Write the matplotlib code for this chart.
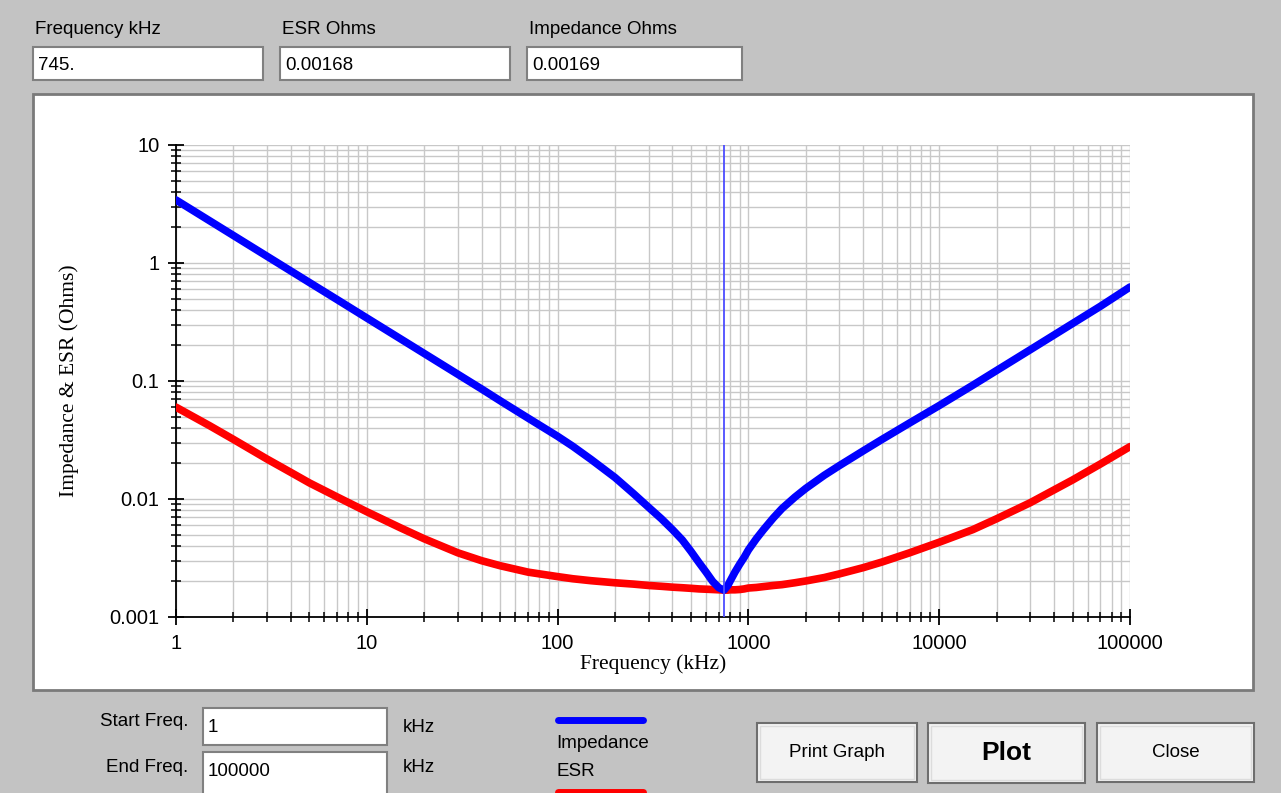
import numpy as np
import matplotlib
matplotlib.use("Agg")
import matplotlib.pyplot as plt
from matplotlib.patches import Rectangle
from matplotlib.ticker import LogLocator, FuncFormatter, NullFormatter

W, H = 1281, 793

# ================= DATA =================
freq_khz = [1, 1.5, 2, 3, 4, 5, 7, 10, 15, 20, 30, 40, 50, 70, 100, 120, 150,
            200, 250, 300, 350, 400, 450, 500, 550, 600, 650, 700, 745, 780, 800,
            850, 900, 950, 1000, 1100, 1200, 1350, 1500, 1750, 2000, 2500, 3000,
            4000, 5000, 7000, 10000, 15000, 20000, 30000, 50000, 70000, 100000]
impedance_ohm = [3.42, 2.28, 1.71, 1.14, 0.855, 0.684, 0.489, 0.342, 0.228, 0.171,
                 0.114, 0.0855, 0.068, 0.0485, 0.0340, 0.0280, 0.0216, 0.0152,
                 0.0111, 0.0085, 0.0068, 0.0055, 0.0045, 0.0036, 0.0029, 0.0024,
                 0.0020, 0.00177, 0.00169, 0.00185, 0.0020, 0.0024, 0.0028, 0.0032,
                 0.0037, 0.0046, 0.0055, 0.0069, 0.0083, 0.01035, 0.0123, 0.0159,
                 0.0192, 0.0256, 0.0319, 0.0441, 0.0619, 0.0921, 0.1228, 0.184,
                 0.307, 0.43, 0.626]
esr_ohm = [0.060, 0.0418, 0.0320, 0.0218, 0.0168, 0.0137, 0.0104, 0.0078, 0.0057,
           0.0046, 0.0035, 0.0030, 0.00272, 0.0024, 0.0022, 0.00211, 0.00203,
           0.00195, 0.0019, 0.00185, 0.00182, 0.00179, 0.00177, 0.00175, 0.00173,
           0.00172, 0.00171, 0.0017, 0.00169, 0.00169, 0.0017, 0.0017, 0.00171,
           0.00173, 0.00176, 0.00178, 0.00181, 0.00185, 0.00188, 0.00195, 0.00202,
           0.00216, 0.00232, 0.00262, 0.00292, 0.0035, 0.0043, 0.0055, 0.0068,
           0.0093, 0.0145, 0.0198, 0.0278]

cursor_khz = 745
readout_labels = ["Frequency kHz", "ESR Ohms", "Impedance Ohms"]
readout_values = ["745.", "0.00168", "0.00169"]
start_freq = "1"
end_freq = "100000"

GUI_BG = "#c3c3c3"
GUI_FONT = ["Liberation Sans", "DejaVu Sans"]

fig = plt.figure(figsize=(W / 100, H / 100), dpi=100, facecolor=GUI_BG)

# ================= WINDOW (pixel coords) =================
gui = fig.add_axes([0, 0, 1, 1])
gui.set_xlim(0, W)
gui.set_ylim(H, 0)
gui.axis("off")


def box(x0, y0, x1, y1, face="white", edge="#808080", lw=1.5):
    gui.add_patch(Rectangle((x0, y0), x1 - x0, y1 - y0, facecolor=face,
                            edgecolor=edge, lw=lw))


def button(x0, y0, x1, y1, label, size=13, weight="normal"):
    gui.add_patch(Rectangle((x0, y0), x1 - x0, y1 - y0, facecolor="#f3f3f3",
                            edgecolor="#6e6e6e", lw=1.5))
    gui.add_patch(Rectangle((x0 + 3, y0 + 3), x1 - x0 - 6, y1 - y0 - 6,
                            facecolor="none", edgecolor="#dcdcdc", lw=1))
    gui.text((x0 + x1) / 2, (y0 + y1) / 2, label, ha="center", va="center",
             fontsize=size, weight=weight, family=GUI_FONT)


# top readouts
readout_x = [(33, 263), (280, 510), (527, 742)]
for (x0, x1), lab, val in zip(readout_x, readout_labels, readout_values):
    gui.text(x0 + 2, 30, lab, ha="left", va="center", fontsize=13.5, family=GUI_FONT)
    box(x0, 47, x1, 80)
    gui.text(x0 + 5, 65, val, ha="left", va="center", fontsize=13.5, family=GUI_FONT)

# plot panel
box(33, 94, 1253, 690, edge="#7a7a7a", lw=2)

# bottom controls
gui.text(188, 721, "Start Freq.", ha="right", va="center", fontsize=13.5, family=GUI_FONT)
box(203, 708, 387, 745)
gui.text(208, 728, start_freq, ha="left", va="center", fontsize=13.5, family=GUI_FONT)
gui.text(403, 727, "kHz", ha="left", va="center", fontsize=13.5, family=GUI_FONT)

gui.text(188, 767, "End Freq.", ha="right", va="center", fontsize=13.5, family=GUI_FONT)
box(203, 752, 387, 795)
gui.text(208, 772, end_freq, ha="left", va="center", fontsize=13.5, family=GUI_FONT)
gui.text(403, 767, "kHz", ha="left", va="center", fontsize=13.5, family=GUI_FONT)

# legend
gui.plot([558, 643], [720, 720], color="#0000ff", lw=5, solid_capstyle="round")
gui.text(556, 743, "Impedance", ha="left", va="center", fontsize=13.5, family=GUI_FONT)
gui.text(556, 771, "ESR", ha="left", va="center", fontsize=13.5, family=GUI_FONT)
gui.plot([558, 643], [792, 792], color="#ff0000", lw=5, solid_capstyle="round")

button(757, 723, 917, 782, "Print Graph", size=13.5)
button(928, 723, 1085, 783, "Plot", size=19, weight="bold")
button(1097, 723, 1254, 782, "Close", size=13.5)

# ================= GRAPH =================
ax = fig.add_axes([176 / W, 1 - 617 / H, 954 / W, 472 / H])
ax.set_facecolor("white")
ax.set_xscale("log")
ax.set_yscale("log")
ax.set_xlim(1, 100000)
ax.set_ylim(0.001, 10)

ax.grid(True, which="both", color="#c8c8c8", lw=1)
ax.set_axisbelow(True)

ax.plot(freq_khz, esr_ohm, color="#ff0000", lw=5.5, solid_capstyle="round",
        solid_joinstyle="round", zorder=3)
ax.plot(freq_khz, impedance_ohm, color="#0000ff", lw=5.5, solid_capstyle="round",
        solid_joinstyle="round", zorder=4)
ax.axvline(cursor_khz, color="#4d4dff", lw=1.3, zorder=5)

sub = np.arange(2, 10)
ax.xaxis.set_major_locator(LogLocator(base=10, numticks=10))
ax.xaxis.set_minor_locator(LogLocator(base=10, subs=sub, numticks=100))
ax.yaxis.set_major_locator(LogLocator(base=10, numticks=10))
ax.yaxis.set_minor_locator(LogLocator(base=10, subs=sub, numticks=100))
fmt = FuncFormatter(lambda v, _: f"{v:g}")
ax.xaxis.set_major_formatter(fmt)
ax.yaxis.set_major_formatter(fmt)
ax.xaxis.set_minor_formatter(NullFormatter())
ax.yaxis.set_minor_formatter(NullFormatter())

ax.tick_params(which="major", direction="inout", length=12, width=1.3,
               labelsize=14.5, colors="black", pad=6)
ax.tick_params(which="minor", direction="inout", length=7, width=1.1)
for lab in ax.get_xticklabels() + ax.get_yticklabels():
    lab.set_family(["Liberation Sans", "DejaVu Sans"])

for s in ["top", "right"]:
    ax.spines[s].set_visible(False)
for s in ["left", "bottom"]:
    ax.spines[s].set_linewidth(1.3)

ax.set_xlabel("Frequency (kHz)", family=["Liberation Serif", "DejaVu Serif"],
              fontsize=15.5, labelpad=1)
ax.set_ylabel("Impedance & ESR (Ohms)", family=["Liberation Serif", "DejaVu Serif"],
              fontsize=15.5, labelpad=22)

fig.savefig("out.png", dpi=100, facecolor=fig.get_facecolor())
